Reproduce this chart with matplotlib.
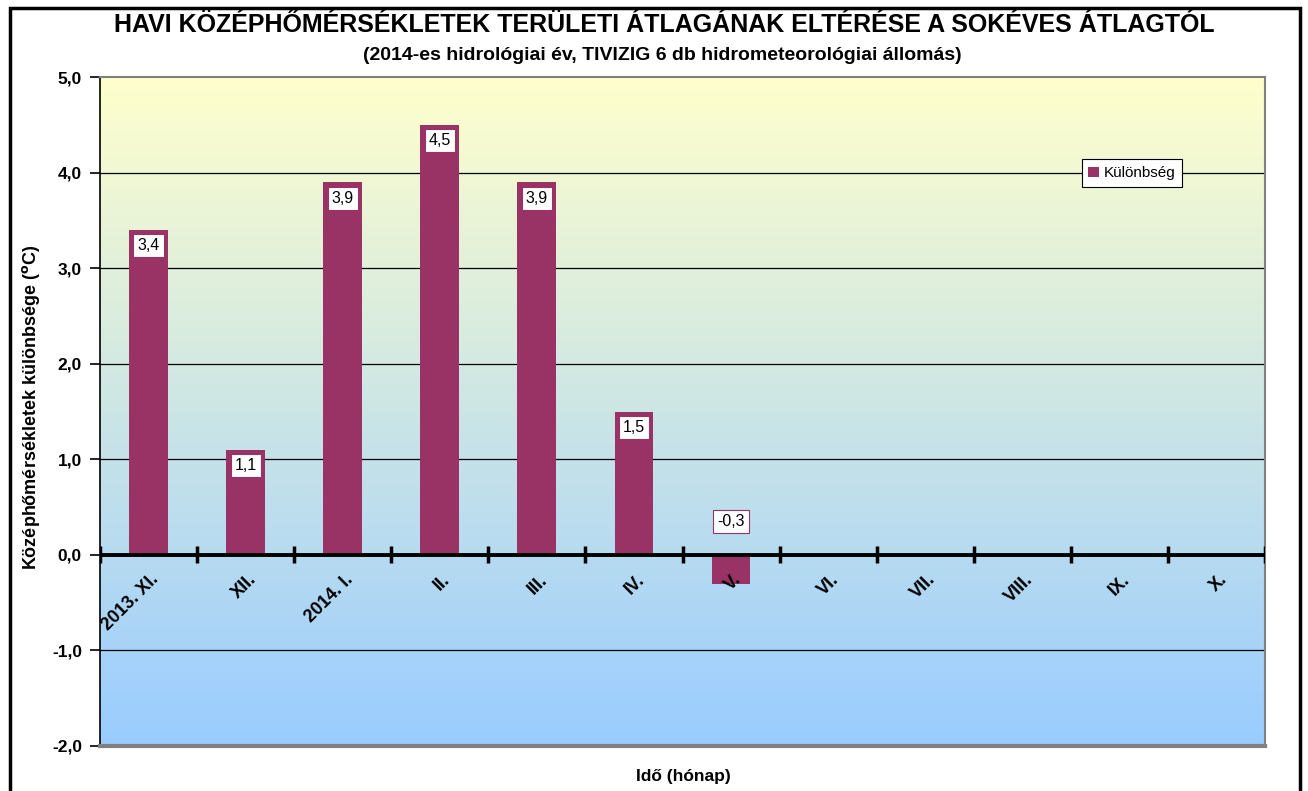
import matplotlib.pyplot as plt
import numpy as np
from matplotlib.colors import LinearSegmentedColormap
from matplotlib.patches import Rectangle

plt.rcParams['font.family'] = ['Liberation Sans', 'DejaVu Sans']

# adatok
honapok = ['2013. XI.', 'XII.', '2014. I.', 'II.', 'III.', 'IV.', 'V.',
           'VI.', 'VII.', 'VIII.', 'IX.', 'X.']
kulonbseg = [3.4, 1.1, 3.9, 4.5, 3.9, 1.5, -0.3]
cimkek = ['3,4', '1,1', '3,9', '4,5', '3,9', '1,5', '-0,3']
yticks = [-2, -1, 0, 1, 2, 3, 4, 5]
ytick_labels = ['-2,0', '-1,0', '0,0', '1,0', '2,0', '3,0', '4,0', '5,0']

bar_color = '#993366'
W, H = 1308, 791

fig = plt.figure(figsize=(W / 100, H / 100), dpi=100)
ax = fig.add_axes([100 / W, 1 - 746 / H, 1165 / W, (746 - 77) / H])

n = len(honapok)
ax.set_xlim(0, n)
ax.set_ylim(-2, 5)

# színátmenetes háttér
cmap = LinearSegmentedColormap.from_list('bg', ['#99CCFF', '#FFFFCC'])
grad = np.linspace(0, 1, 256).reshape(-1, 1)
ax.imshow(grad, extent=[0, n, -2, 5], origin='lower', aspect='auto',
          cmap=cmap, zorder=0)

# rácsvonalak
for y in [-1, 1, 2, 3, 4]:
    ax.axhline(y, color='black', lw=0.9, zorder=1)

x = np.arange(len(kulonbseg)) + 0.5
ax.bar(x, kulonbseg, width=0.40, color=bar_color, zorder=2, label='Különbség')

# adatcímkék
for xi, v, t in zip(x, kulonbseg, cimkek):
    if v >= 0:
        xy, off = (xi, v), -11.5
    else:
        xy, off = (xi, 0), 24
    ax.annotate(t, xy=xy, xytext=(0, off), textcoords='offset points',
                ha='center', va='center', fontsize=11.5, zorder=5,
                bbox=dict(boxstyle='square,pad=0.25', fc='white',
                          ec=bar_color, lw=0.8))

# nulla-vonal kereszt-osztásokkal
ax.axhline(0, color='black', lw=2.8, zorder=3)
for b in range(n + 1):
    ax.plot([b, b], [-0.09, 0.09], color='black', lw=2.5, zorder=3,
            solid_capstyle='butt')

# x címkék
for i, lab in enumerate(honapok):
    ax.text(i + 0.52, -0.17, lab, rotation=45, rotation_mode='anchor',
            ha='right', va='top', fontsize=13, fontweight='bold', zorder=4)

ax.set_xticks([])
ax.set_yticks(yticks)
ax.set_yticklabels(ytick_labels, fontsize=12.5, fontweight='bold')
ax.tick_params(axis='y', direction='out', length=7, width=1.2, pad=6)

for s in ['top', 'right']:
    ax.spines[s].set_color('#808080')
    ax.spines[s].set_linewidth(1.5)
ax.spines['bottom'].set_color('#808080')
ax.spines['bottom'].set_linewidth(3)
ax.spines['left'].set_color('black')
ax.spines['left'].set_linewidth(1.2)

fig.text(31 / W, 1 - 407 / H,
         'Középhőmérsékletek különbsége ($\\mathbf{^o}$C)',
         rotation=90, ha='center', va='center', fontsize=13, fontweight='bold')

fig.text(683 / W, 1 - 776 / H, 'Idő (hónap)', ha='center', va='center',
         fontsize=12.5, fontweight='bold')

leg = ax.legend(loc='center left', bbox_to_anchor=(0.836, 0.856),
                fontsize=11, frameon=True, fancybox=False, handlelength=0.7,
                handletextpad=0.3, borderpad=0.45)
leg.get_frame().set_edgecolor('black')
leg.get_frame().set_linewidth(0.8)
leg.get_frame().set_alpha(1)
leg.set_zorder(6)

fig.text(664 / W, 1 - 25 / H,
         'HAVI KÖZÉPHŐMÉRSÉKLETEK TERÜLETI ÁTLAGÁNAK ELTÉRÉSE A SOKÉVES ÁTLAGTÓL',
         ha='center', va='center', fontsize=18, fontweight='bold')
fig.text(662 / W, 1 - 55 / H,
         '(2014-es hidrológiai év, TIVIZIG 6 db hidrometeorológiai állomás)',
         ha='center', va='center', fontsize=14, fontweight='bold')

# külső keret
fig.patches.append(Rectangle((10 / W, -0.02), 1290 / W, 1 - 8 / H + 0.02,
                             transform=fig.transFigure, fill=False,
                             edgecolor='black', lw=2.5))

fig.savefig('out.png', dpi=100)
